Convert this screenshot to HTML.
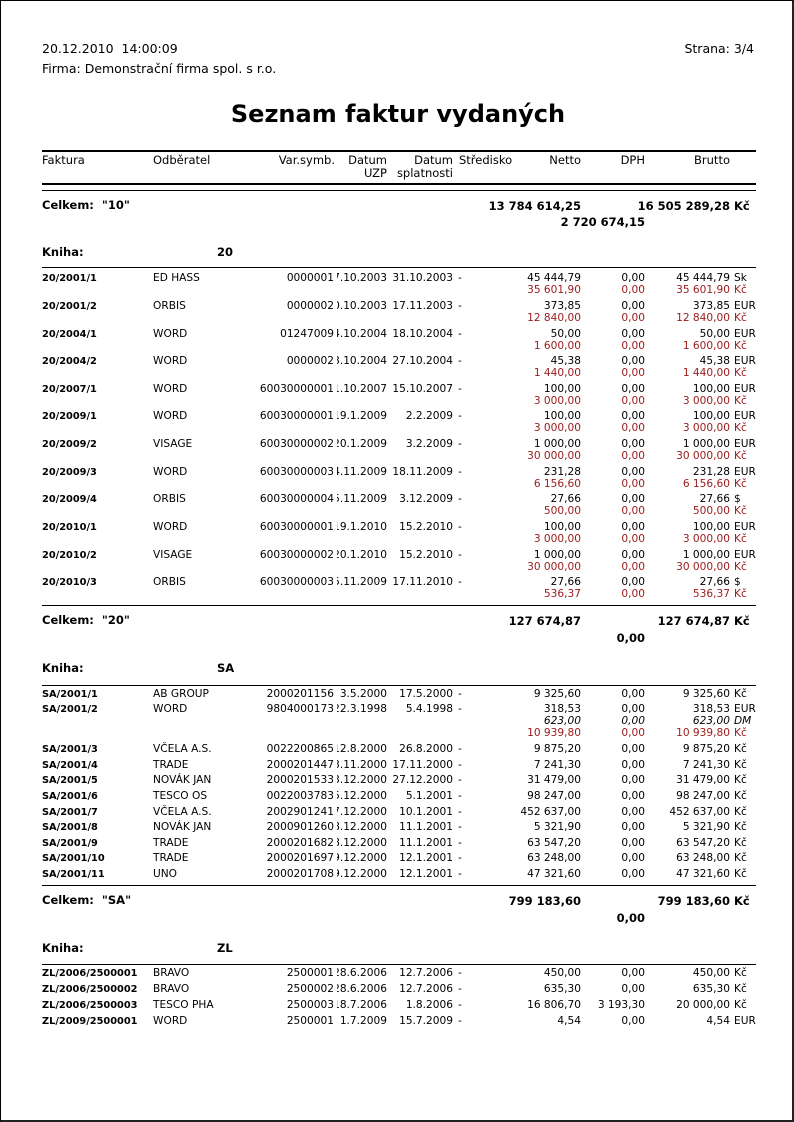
<!DOCTYPE html>
<html><head><meta charset="utf-8"><style>
body{margin:0;background:#fff}
#p{position:relative;width:791px;height:1119px;border-left:1px solid #000;border-top:1px solid #000;border-right:2px solid #222;border-bottom:2px solid #222;overflow:hidden;font-family:"DejaVu Sans","Liberation Sans",sans-serif;color:#000}
.a{position:absolute;white-space:nowrap}
.h{font-size:12.5px;line-height:14px}
.th{font-size:11.5px;line-height:13px;top:153px}
.tot{font-size:11.5px;font-weight:bold;line-height:13px}
.row{position:absolute;left:0;width:794px;height:12px;font-size:10.6px;line-height:12px;margin-top:-1px}
.row span{position:absolute;white-space:nowrap;top:0}
.row span.f{left:41px;font-weight:bold;font-size:9.8px;top:1px}
.o{left:152px}
.v{left:214px;width:119px;text-align:right}
.u{left:335.5px;width:50.5px;overflow:hidden;height:12px}
.u i{position:absolute;right:0;font-style:normal}
.d{left:386px;width:66px;text-align:right}
.m{left:457px}
.n{left:470px;width:110px;text-align:right}
.g{left:554px;width:90px;text-align:right}
.b{left:619px;width:110px;text-align:right}
.c{left:733px}
.red{color:#9b1b1b}
.it{font-style:italic}
.ln{position:absolute;left:41px;width:714px;background:#000}
</style></head><body><div id="p">
<div class="a h" style="left:41px;top:41px">20.12.2010&nbsp; 14:00:09</div>
<div class="a h" style="left:41px;top:61px">Firma: Demonstrační firma spol. s r.o.</div>
<div class="a h" style="right:38px;top:41px">Strana: 3/4</div>
<div class="a" style="left:0;width:794px;text-align:center;top:98px;font-size:24px;font-weight:bold;line-height:30px">Seznam faktur vydaných</div>

<div class="ln" style="top:149px;height:2px"></div>
<div class="a th" style="left:41px">Faktura</div>
<div class="a th" style="left:152px">Odběratel</div>
<div class="a th" style="left:214px;width:120px;text-align:right">Var.symb.</div>
<div class="a th" style="left:334px;width:52px;text-align:right">Datum<br>UZP</div>
<div class="a th" style="left:376px;width:76px;text-align:right">Datum<br>splatnosti</div>
<div class="a th" style="left:458px">Středisko</div>
<div class="a th" style="left:480px;width:100px;text-align:right">Netto</div>
<div class="a th" style="left:564px;width:80px;text-align:right">DPH</div>
<div class="a th" style="left:629px;width:100px;text-align:right">Brutto</div>
<div class="ln" style="top:182px;height:2px"></div>
<div class="ln" style="top:189px;height:1px"></div>

<div class="a tot" style="left:41px;top:198px">Celkem:&nbsp; "10"</div>
<div class="a tot" style="left:440px;width:140px;text-align:right;top:199px">13 784 614,25</div>
<div class="a tot" style="left:589px;width:140px;text-align:right;top:199px">16 505 289,28</div>
<div class="a tot" style="left:733px;top:199px">Kč</div>
<div class="a tot" style="left:504px;width:140px;text-align:right;top:215px">2 720 674,15</div>

<div class="a tot" style="left:41px;top:245px">Kniha:</div>
<div class="a tot" style="left:216px;top:245px">20</div>
<div class="ln" style="top:266px;height:1px"></div>

<div class="row" style="top:272px"><span class="f">20/2001/1</span><span class="o">ED HASS</span><span class="v">0000001</span><span class="u"><i>27.10.2003</i></span><span class="d">31.10.2003</span><span class="m">-</span><span class="n">45 444,79</span><span class="g">0,00</span><span class="b">45 444,79</span><span class="c">Sk</span></div>
<div class="row red" style="top:284px"><span class="n">35 601,90</span><span class="g">0,00</span><span class="b">35 601,90</span><span class="c">Kč</span></div>
<div class="row" style="top:300px"><span class="f">20/2001/2</span><span class="o">ORBIS</span><span class="v">0000002</span><span class="u"><i>30.10.2003</i></span><span class="d">17.11.2003</span><span class="m">-</span><span class="n">373,85</span><span class="g">0,00</span><span class="b">373,85</span><span class="c">EUR</span></div>
<div class="row red" style="top:312px"><span class="n">12 840,00</span><span class="g">0,00</span><span class="b">12 840,00</span><span class="c">Kč</span></div>
<div class="row" style="top:328px"><span class="f">20/2004/1</span><span class="o">WORD</span><span class="v">01247009</span><span class="u"><i>14.10.2004</i></span><span class="d">18.10.2004</span><span class="m">-</span><span class="n">50,00</span><span class="g">0,00</span><span class="b">50,00</span><span class="c">EUR</span></div>
<div class="row red" style="top:340px"><span class="n">1 600,00</span><span class="g">0,00</span><span class="b">1 600,00</span><span class="c">Kč</span></div>
<div class="row" style="top:355px"><span class="f">20/2004/2</span><span class="o">WORD</span><span class="v">0000002</span><span class="u"><i>13.10.2004</i></span><span class="d">27.10.2004</span><span class="m">-</span><span class="n">45,38</span><span class="g">0,00</span><span class="b">45,38</span><span class="c">EUR</span></div>
<div class="row red" style="top:367px"><span class="n">1 440,00</span><span class="g">0,00</span><span class="b">1 440,00</span><span class="c">Kč</span></div>
<div class="row" style="top:383px"><span class="f">20/2007/1</span><span class="o">WORD</span><span class="v">60030000001</span><span class="u"><i>01.10.2007</i></span><span class="d">15.10.2007</span><span class="m">-</span><span class="n">100,00</span><span class="g">0,00</span><span class="b">100,00</span><span class="c">EUR</span></div>
<div class="row red" style="top:395px"><span class="n">3 000,00</span><span class="g">0,00</span><span class="b">3 000,00</span><span class="c">Kč</span></div>
<div class="row" style="top:410px"><span class="f">20/2009/1</span><span class="o">WORD</span><span class="v">60030000001</span><span class="u"><i>19.1.2009</i></span><span class="d">2.2.2009</span><span class="m">-</span><span class="n">100,00</span><span class="g">0,00</span><span class="b">100,00</span><span class="c">EUR</span></div>
<div class="row red" style="top:422px"><span class="n">3 000,00</span><span class="g">0,00</span><span class="b">3 000,00</span><span class="c">Kč</span></div>
<div class="row" style="top:438px"><span class="f">20/2009/2</span><span class="o">VISAGE</span><span class="v">60030000002</span><span class="u"><i>20.1.2009</i></span><span class="d">3.2.2009</span><span class="m">-</span><span class="n">1 000,00</span><span class="g">0,00</span><span class="b">1 000,00</span><span class="c">EUR</span></div>
<div class="row red" style="top:450px"><span class="n">30 000,00</span><span class="g">0,00</span><span class="b">30 000,00</span><span class="c">Kč</span></div>
<div class="row" style="top:466px"><span class="f">20/2009/3</span><span class="o">WORD</span><span class="v">60030000003</span><span class="u"><i>04.11.2009</i></span><span class="d">18.11.2009</span><span class="m">-</span><span class="n">231,28</span><span class="g">0,00</span><span class="b">231,28</span><span class="c">EUR</span></div>
<div class="row red" style="top:478px"><span class="n">6 156,60</span><span class="g">0,00</span><span class="b">6 156,60</span><span class="c">Kč</span></div>
<div class="row" style="top:493px"><span class="f">20/2009/4</span><span class="o">ORBIS</span><span class="v">60030000004</span><span class="u"><i>25.11.2009</i></span><span class="d">3.12.2009</span><span class="m">-</span><span class="n">27,66</span><span class="g">0,00</span><span class="b">27,66</span><span class="c">$</span></div>
<div class="row red" style="top:505px"><span class="n">500,00</span><span class="g">0,00</span><span class="b">500,00</span><span class="c">Kč</span></div>
<div class="row" style="top:521px"><span class="f">20/2010/1</span><span class="o">WORD</span><span class="v">60030000001</span><span class="u"><i>19.1.2010</i></span><span class="d">15.2.2010</span><span class="m">-</span><span class="n">100,00</span><span class="g">0,00</span><span class="b">100,00</span><span class="c">EUR</span></div>
<div class="row red" style="top:533px"><span class="n">3 000,00</span><span class="g">0,00</span><span class="b">3 000,00</span><span class="c">Kč</span></div>
<div class="row" style="top:549px"><span class="f">20/2010/2</span><span class="o">VISAGE</span><span class="v">60030000002</span><span class="u"><i>20.1.2010</i></span><span class="d">15.2.2010</span><span class="m">-</span><span class="n">1 000,00</span><span class="g">0,00</span><span class="b">1 000,00</span><span class="c">EUR</span></div>
<div class="row red" style="top:561px"><span class="n">30 000,00</span><span class="g">0,00</span><span class="b">30 000,00</span><span class="c">Kč</span></div>
<div class="row" style="top:576px"><span class="f">20/2010/3</span><span class="o">ORBIS</span><span class="v">60030000003</span><span class="u"><i>25.11.2009</i></span><span class="d">17.11.2010</span><span class="m">-</span><span class="n">27,66</span><span class="g">0,00</span><span class="b">27,66</span><span class="c">$</span></div>
<div class="row red" style="top:588px"><span class="n">536,37</span><span class="g">0,00</span><span class="b">536,37</span><span class="c">Kč</span></div>
<div class="ln" style="top:604px;height:1px"></div>

<div class="a tot" style="left:41px;top:613px">Celkem:&nbsp; "20"</div>
<div class="a tot" style="left:440px;width:140px;text-align:right;top:614px">127 674,87</div>
<div class="a tot" style="left:589px;width:140px;text-align:right;top:614px">127 674,87</div>
<div class="a tot" style="left:733px;top:614px">Kč</div>
<div class="a tot" style="left:504px;width:140px;text-align:right;top:631px">0,00</div>

<div class="a tot" style="left:41px;top:661px">Kniha:</div>
<div class="a tot" style="left:216px;top:661px">SA</div>
<div class="ln" style="top:684px;height:1px"></div>

<div class="row" style="top:688px"><span class="f">SA/2001/1</span><span class="o">AB GROUP</span><span class="v">2000201156</span><span class="u"><i>3.5.2000</i></span><span class="d">17.5.2000</span><span class="m">-</span><span class="n">9 325,60</span><span class="g">0,00</span><span class="b">9 325,60</span><span class="c">Kč</span></div>
<div class="row" style="top:703px"><span class="f">SA/2001/2</span><span class="o">WORD</span><span class="v">9804000173</span><span class="u"><i>22.3.1998</i></span><span class="d">5.4.1998</span><span class="m">-</span><span class="n">318,53</span><span class="g">0,00</span><span class="b">318,53</span><span class="c">EUR</span></div>
<div class="row it" style="top:715px"><span class="n">623,00</span><span class="g">0,00</span><span class="b">623,00</span><span class="c">DM</span></div>
<div class="row red" style="top:727px"><span class="n">10 939,80</span><span class="g">0,00</span><span class="b">10 939,80</span><span class="c">Kč</span></div>
<div class="row" style="top:743px"><span class="f">SA/2001/3</span><span class="o">VČELA A.S.</span><span class="v">0022200865</span><span class="u"><i>12.8.2000</i></span><span class="d">26.8.2000</span><span class="m">-</span><span class="n">9 875,20</span><span class="g">0,00</span><span class="b">9 875,20</span><span class="c">Kč</span></div>
<div class="row" style="top:759px"><span class="f">SA/2001/4</span><span class="o">TRADE</span><span class="v">2000201447</span><span class="u"><i>03.11.2000</i></span><span class="d">17.11.2000</span><span class="m">-</span><span class="n">7 241,30</span><span class="g">0,00</span><span class="b">7 241,30</span><span class="c">Kč</span></div>
<div class="row" style="top:774px"><span class="f">SA/2001/5</span><span class="o">NOVÁK JAN</span><span class="v">2000201533</span><span class="u"><i>13.12.2000</i></span><span class="d">27.12.2000</span><span class="m">-</span><span class="n">31 479,00</span><span class="g">0,00</span><span class="b">31 479,00</span><span class="c">Kč</span></div>
<div class="row" style="top:790px"><span class="f">SA/2001/6</span><span class="o">TESCO OS</span><span class="v">0022003783</span><span class="u"><i>15.12.2000</i></span><span class="d">5.1.2001</span><span class="m">-</span><span class="n">98 247,00</span><span class="g">0,00</span><span class="b">98 247,00</span><span class="c">Kč</span></div>
<div class="row" style="top:806px"><span class="f">SA/2001/7</span><span class="o">VČELA A.S.</span><span class="v">2002901241</span><span class="u"><i>27.12.2000</i></span><span class="d">10.1.2001</span><span class="m">-</span><span class="n">452 637,00</span><span class="g">0,00</span><span class="b">452 637,00</span><span class="c">Kč</span></div>
<div class="row" style="top:821px"><span class="f">SA/2001/8</span><span class="o">NOVÁK JAN</span><span class="v">2000901260</span><span class="u"><i>28.12.2000</i></span><span class="d">11.1.2001</span><span class="m">-</span><span class="n">5 321,90</span><span class="g">0,00</span><span class="b">5 321,90</span><span class="c">Kč</span></div>
<div class="row" style="top:837px"><span class="f">SA/2001/9</span><span class="o">TRADE</span><span class="v">2000201682</span><span class="u"><i>28.12.2000</i></span><span class="d">11.1.2001</span><span class="m">-</span><span class="n">63 547,20</span><span class="g">0,00</span><span class="b">63 547,20</span><span class="c">Kč</span></div>
<div class="row" style="top:852px"><span class="f">SA/2001/10</span><span class="o">TRADE</span><span class="v">2000201697</span><span class="u"><i>29.12.2000</i></span><span class="d">12.1.2001</span><span class="m">-</span><span class="n">63 248,00</span><span class="g">0,00</span><span class="b">63 248,00</span><span class="c">Kč</span></div>
<div class="row" style="top:868px"><span class="f">SA/2001/11</span><span class="o">UNO</span><span class="v">2000201708</span><span class="u"><i>29.12.2000</i></span><span class="d">12.1.2001</span><span class="m">-</span><span class="n">47 321,60</span><span class="g">0,00</span><span class="b">47 321,60</span><span class="c">Kč</span></div>
<div class="ln" style="top:884px;height:1px"></div>

<div class="a tot" style="left:41px;top:893px">Celkem:&nbsp; "SA"</div>
<div class="a tot" style="left:440px;width:140px;text-align:right;top:894px">799 183,60</div>
<div class="a tot" style="left:589px;width:140px;text-align:right;top:894px">799 183,60</div>
<div class="a tot" style="left:733px;top:894px">Kč</div>
<div class="a tot" style="left:504px;width:140px;text-align:right;top:911px">0,00</div>

<div class="a tot" style="left:41px;top:941px">Kniha:</div>
<div class="a tot" style="left:216px;top:941px">ZL</div>
<div class="ln" style="top:963px;height:1px"></div>

<div class="row" style="top:967px"><span class="f">ZL/2006/2500001</span><span class="o">BRAVO</span><span class="v">2500001</span><span class="u"><i>28.6.2006</i></span><span class="d">12.7.2006</span><span class="m">-</span><span class="n">450,00</span><span class="g">0,00</span><span class="b">450,00</span><span class="c">Kč</span></div>
<div class="row" style="top:983px"><span class="f">ZL/2006/2500002</span><span class="o">BRAVO</span><span class="v">2500002</span><span class="u"><i>28.6.2006</i></span><span class="d">12.7.2006</span><span class="m">-</span><span class="n">635,30</span><span class="g">0,00</span><span class="b">635,30</span><span class="c">Kč</span></div>
<div class="row" style="top:999px"><span class="f">ZL/2006/2500003</span><span class="o">TESCO PHA</span><span class="v">2500003</span><span class="u"><i>18.7.2006</i></span><span class="d">1.8.2006</span><span class="m">-</span><span class="n">16 806,70</span><span class="g">3 193,30</span><span class="b">20 000,00</span><span class="c">Kč</span></div>
<div class="row" style="top:1015px"><span class="f">ZL/2009/2500001</span><span class="o">WORD</span><span class="v">2500001</span><span class="u"><i>1.7.2009</i></span><span class="d">15.7.2009</span><span class="m">-</span><span class="n">4,54</span><span class="g">0,00</span><span class="b">4,54</span><span class="c">EUR</span></div>
</div></body></html>
